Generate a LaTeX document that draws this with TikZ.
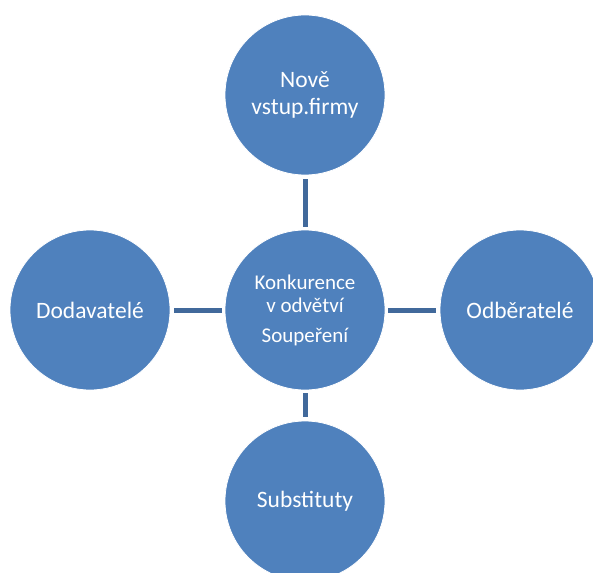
\documentclass[tikz,border=0pt]{standalone}
\usepackage{fontspec}
\setmainfont{Carlito}
\definecolor{blob}{HTML}{4F81BD}
\definecolor{link}{HTML}{41699B}
\begin{document}
\begin{tikzpicture}[x=1pt,y=-1pt,
  blobnode/.style={circle,fill=blob,draw=white,line width=0.8pt,minimum size=160pt,inner sep=0pt,
    text=white,align=center,font=\fontsize{23.5}{27}\selectfont},
  linkline/.style={draw=link,line width=5pt,shorten <=4pt,shorten >=3pt}]
\useasboundingbox (0,0) rectangle (593,572);
\node[blobnode] (top) at (305,95) {Nově\\vstup.firmy};
\node[blobnode,font=\fontsize{21}{23}\selectfont] (mid) at (305,310) {Konkurence\\v odvětví\\[7pt]Soupeření};
\node[blobnode] (left) at (90,310) {Dodavatelé};
\node[blobnode] (right) at (520,310) {Odběratelé};
\node[blobnode] (bot) at (305,501) {Substituty};
\draw[linkline] (top) -- (mid);
\draw[linkline] (left) -- (mid);
\draw[linkline] (right) -- (mid);
\draw[linkline] (bot) -- (mid);
\end{tikzpicture}
\end{document}
